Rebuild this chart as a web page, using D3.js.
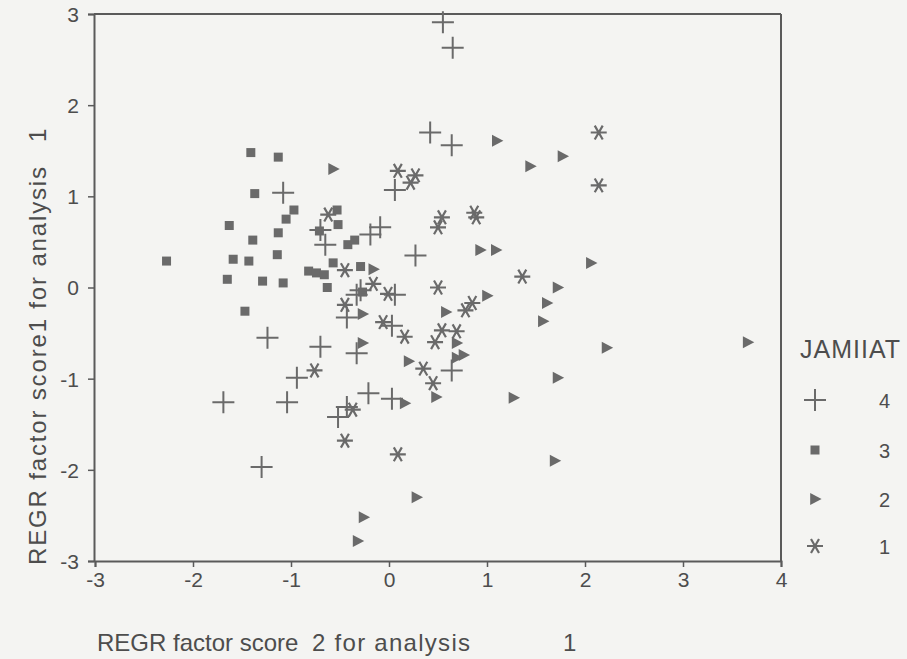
<!DOCTYPE html>
<html><head><meta charset="utf-8">
<script src="https://cdn.jsdelivr.net/npm/d3@7"></script>
<style>body{margin:0;background:#f4f4f2;}svg{display:block;}</style>
</head><body>
<svg id="c" width="907" height="659"></svg>
<script>
const xTicks = [-3,-2,-1,0,1,2,3,4];
const yTicks = [-3,-2,-1,0,1,2,3];
const legendTitle = "JAMIIAT";
const groups = ["4","3","2","1"];
// JAMIIAT = 4 (plus)
const g4x = [0.55,0.65,0.42,0.64,-1.08,0.06,-0.70,-0.65,-0.09,-0.19,0.27,-0.33,-0.29,0.06,-0.43,0.03,-0.33,0.64,-1.24,-0.70,-0.94,-0.21,0.03,-0.43,-0.52,-1.69,-1.04,-1.30];
const g4y = [2.91,2.63,1.70,1.56,1.04,1.07,0.63,0.47,0.66,0.58,0.35,-0.08,-0.03,-0.08,-0.33,-0.42,-0.72,-0.91,-0.55,-0.65,-0.99,-1.16,-1.22,-1.31,-1.42,-1.26,-1.26,-1.97];
// JAMIIAT = 3 (square)
const g3x = [-1.41,-1.13,-1.37,-0.97,-1.05,-1.63,-1.13,-1.39,-1.14,-2.27,-1.59,-1.43,-1.65,-1.29,-1.08,-1.47,-0.53,-0.52,-0.71,-0.57,-0.82,-0.74,-0.66,-0.63,-0.42,-0.35,-0.29,-0.27];
const g3y = [1.48,1.43,1.03,0.85,0.75,0.68,0.60,0.52,0.36,0.29,0.31,0.29,0.09,0.07,0.05,-0.26,0.85,0.69,0.62,0.27,0.18,0.16,0.14,0.00,0.47,0.52,0.23,-0.05];
// JAMIIAT = 2 (triangle)
const g2x = [-0.57,1.10,1.77,1.44,0.93,1.09,-0.16,1.72,1.61,1.57,1.00,0.58,-0.27,0.69,-0.27,0.76,0.69,0.20,1.72,2.06,2.22,3.66,0.16,0.48,1.27,1.69,0.28,-0.26,-0.32];
const g2y = [1.30,1.61,1.44,1.33,0.41,0.41,0.20,0.00,-0.17,-0.37,-0.09,-0.27,-0.29,-0.61,-0.61,-0.74,-0.77,-0.81,-0.99,0.27,-0.66,-0.60,-1.27,-1.20,-1.21,-1.90,-2.30,-2.52,-2.78];
// JAMIIAT = 1 (asterisk)
const g1x = [2.14,2.14,0.09,0.27,0.22,-0.62,0.54,0.50,0.87,0.89,-0.45,1.36,-0.16,-0.01,0.50,0.85,0.78,-0.45,-0.06,0.16,0.54,0.69,0.47,0.35,0.45,-0.76,-0.37,-0.45,0.09];
const g1y = [1.70,1.12,1.28,1.23,1.15,0.80,0.77,0.66,0.82,0.77,0.19,0.12,0.04,-0.07,0.00,-0.17,-0.25,-0.19,-0.38,-0.54,-0.47,-0.48,-0.60,-0.89,-1.05,-0.91,-1.34,-1.68,-1.83];

const svg = d3.select("#c");
const L=94, R=781, T=14, B=561;
const x = d3.scaleLinear().domain([-3,4]).range([L+1,R]);
const y = d3.scaleLinear().domain([-3,3]).range([B,T]);
const col = "#6a6a6a", axc = "#5a5a5a", txt = "#4d4d4d";
const FF = "Liberation Sans, Arial, sans-serif";

svg.append("line").attr("x1",L).attr("x2",R).attr("y1",T).attr("y2",T).attr("stroke",axc).attr("stroke-width",2);
svg.append("line").attr("x1",R).attr("x2",R).attr("y1",T).attr("y2",B).attr("stroke",axc).attr("stroke-width",2);

const fmt = d => String(d);
const xa = svg.append("g").attr("transform",`translate(0,${B})`)
  .call(d3.axisBottom(x).tickValues(xTicks).tickSize(6).tickPadding(5).tickFormat(fmt));
const ya = svg.append("g").attr("transform",`translate(${L},0)`)
  .call(d3.axisLeft(y).tickValues(yTicks).tickSize(6).tickPadding(9).tickFormat(fmt));
[xa,ya].forEach(a=>{
  a.attr("font-family",FF);
  a.select(".domain").attr("stroke",axc).attr("stroke-width",2);
  a.selectAll(".tick line").attr("stroke",axc).attr("stroke-width",1.5);
  a.selectAll("text").attr("fill",txt).style("font-size","21px");
});
ya.selectAll(".tick text").attr("dy","0.35em");

function drawPlus(g, cx, cy, s){
  g.append("path").attr("d",`M${cx-s},${cy}H${cx+s}M${cx},${cy-s}V${cy+s}`)
   .attr("stroke",col).attr("stroke-width",2).attr("fill","none");
}
function drawSquare(g,cx,cy,s){
  g.append("rect").attr("x",cx-s).attr("y",cy-s).attr("width",2*s).attr("height",2*s).attr("fill",col);
}
function drawTri(g,cx,cy,s){
  g.append("path").attr("d",`M${cx-s*0.8},${cy-s}L${cx+s*1.1},${cy}L${cx-s*0.8},${cy+s}Z`).attr("fill",col);
}
function drawAst(g,cx,cy,s){
  const a = s*Math.cos(Math.PI/3), b = s*Math.sin(Math.PI/3);
  g.append("path").attr("d",`M${cx-s},${cy}H${cx+s}M${cx-a},${cy-b}L${cx+a},${cy+b}M${cx+a},${cy-b}L${cx-a},${cy+b}`)
   .attr("stroke",col).attr("stroke-width",2.2).attr("fill","none");
}
const pts = svg.append("g");
const sets = [[g1x,g1y,drawAst,8],[g2x,g2y,drawTri,6],[g3x,g3y,drawSquare,4.5],[g4x,g4y,drawPlus,11]];
sets.forEach(([xs,ys,fn,s])=>{ xs.forEach((v,i)=>fn(pts,x(v),y(ys[i]),s)); });

// legend
const lg = svg.append("g").attr("font-family",FF).attr("fill",txt);
lg.append("text").attr("x",800).attr("y",358).attr("font-size",25).attr("textLength",100).text(legendTitle);
const legFns = [[drawPlus,11],[drawSquare,4.5],[drawTri,6],[drawAst,8]];
const legY = [400,450,499,546];
groups.forEach((g,i)=>{
  legFns[i][0](lg,815,legY[i],legFns[i][1]);
  lg.append("text").attr("x",879).attr("y",legY[i]+8).attr("font-size",20).attr("fill",txt).text(g);
});

// axis titles
const xt = svg.append("g").attr("font-family",FF).attr("font-size",24).attr("fill",txt);
xt.append("text").attr("x",97).attr("y",651).text("REGR factor score");
xt.append("text").attr("x",312).attr("y",651).attr("textLength",158).text("2 for analysis");
xt.append("text").attr("x",563).attr("y",651).text("1");
const yt = svg.append("g").attr("font-family",FF).attr("font-size",24).attr("fill",txt)
  .attr("transform","translate(46,0) rotate(-90)");
yt.append("text").attr("x",-565).attr("y",0).attr("textLength",398).text("REGR factor score1 for analysis");
yt.append("text").attr("x",-142).attr("y",0).text("1");
</script>
</body></html>
